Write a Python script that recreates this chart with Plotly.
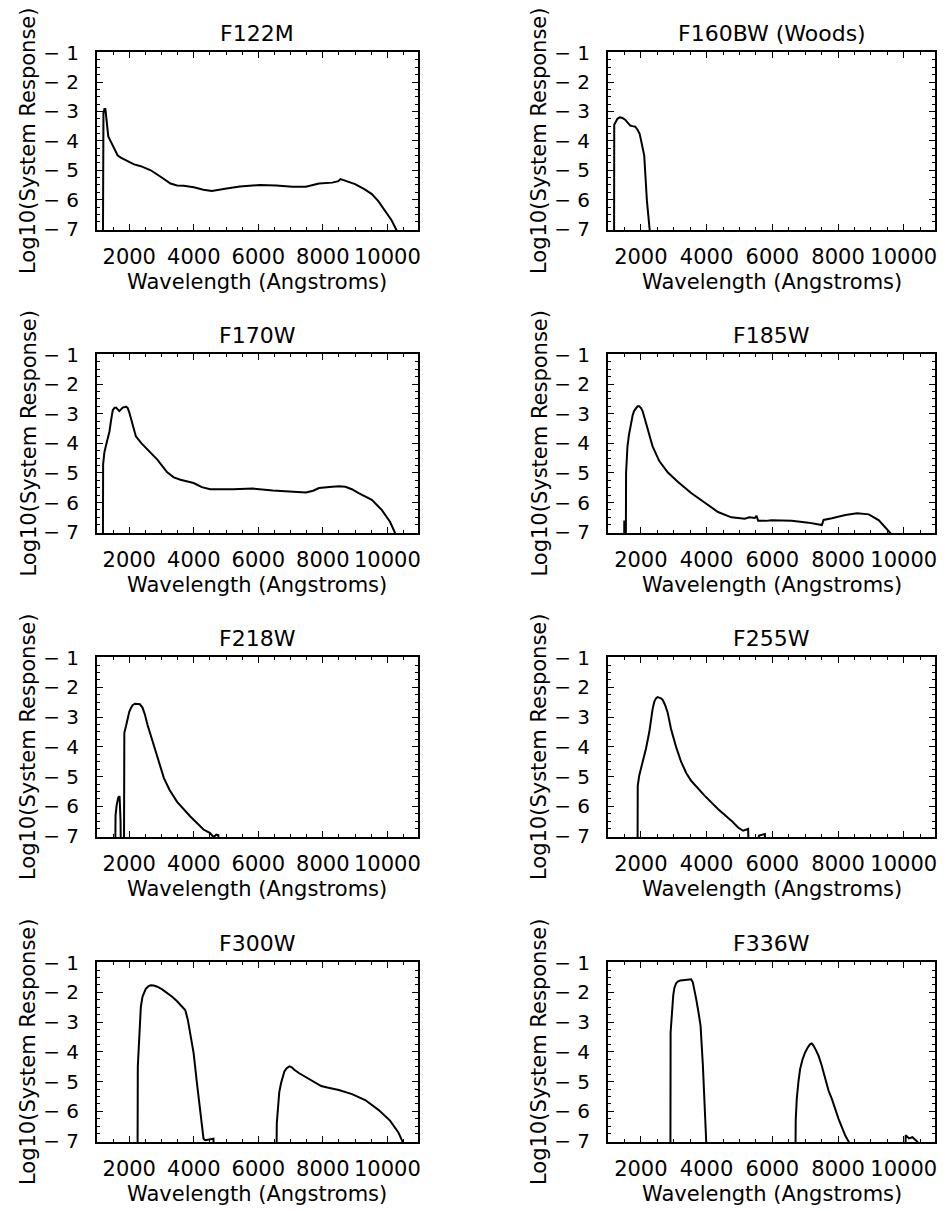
import plotly.graph_objects as go

# Log10(system response) curves, one pair of lists per filter
f122m_wl = [1150, 1182, 1200, 1230, 1260, 1290, 1320, 1350, 1440, 1540, 1642, 1750, 1949, 2150, 2358, 2665,
            2972, 3279, 3480, 3688, 4000, 4300, 4558, 4800, 5018, 5427, 6041, 6553, 7064, 7473, 7882, 8291,
            8480, 8547, 8700, 9000, 9300, 9519, 9720, 9928, 10130, 10286, 10500]
f122m_resp = [-8.0, -8.0, -3.05, -2.92, -2.92, -3.2, -3.6, -3.85, -4.05, -4.3, -4.5, -4.58, -4.68, -4.8,
              -4.86, -5.0, -5.22, -5.45, -5.52, -5.53, -5.58, -5.66, -5.7, -5.67, -5.62, -5.55, -5.50, -5.52,
              -5.56, -5.56, -5.45, -5.42, -5.37, -5.30, -5.35, -5.47, -5.65, -5.81, -6.05, -6.37, -6.7, -7.04,
              -7.5]

f160bw_wl = [1150, 1184, 1190, 1230, 1286, 1360, 1439, 1520, 1592, 1680, 1745, 1830, 1898, 1960, 2000, 2050,
             2102, 2184, 2255, 2350]
f160bw_resp = [-8.0, -8.0, -3.45, -3.35, -3.25, -3.2, -3.22, -3.28, -3.36, -3.48, -3.5, -3.52, -3.62, -3.75,
               -3.95, -4.2, -4.5, -6.03, -7.04, -8.0]

f170w_wl = [1150, 1182, 1190, 1230, 1284, 1340, 1386, 1440, 1489, 1540, 1591, 1693, 1795, 1898, 1950, 2000,
            2050, 2102, 2205, 2380, 2563, 2870, 3176, 3380, 3586, 3995, 4250, 4506, 5222, 5836, 6450, 7064,
            7473, 7700, 7882, 8291, 8500, 8700, 8900, 9110, 9519, 9826, 10082, 10235, 10400]
f170w_resp = [-8.0, -8.0, -4.7, -4.3, -4.05, -3.85, -3.6, -3.2, -2.88, -2.8, -2.79, -2.91, -2.79, -2.76,
              -2.8, -2.95, -3.15, -3.40, -3.76, -4.0, -4.21, -4.55, -4.98, -5.15, -5.23, -5.34, -5.48, -5.55,
              -5.55, -5.53, -5.59, -5.64, -5.66, -5.6, -5.51, -5.47, -5.45, -5.47, -5.55, -5.68, -5.91, -6.25,
              -6.65, -7.02, -7.6]

f185w_wl = [1470, 1490, 1495, 1505, 1510, 1541, 1550, 1570, 1592, 1640, 1694, 1750, 1796, 1850, 1898, 1950,
            2000, 2050, 2102, 2204, 2357, 2561, 2816, 3122, 3530, 3938, 4346, 4754, 5162, 5300, 5468, 5520,
            5570, 5800, 5978, 6590, 7100, 7508, 7540, 7559, 7814, 8222, 8579, 8936, 9242, 9599, 9800]
f185w_resp = [-8.0, -8.0, -6.64, -6.64, -8.0, -8.0, -5.0, -4.5, -4.10, -3.7, -3.35, -3.05, -2.9, -2.8,
              -2.75, -2.75, -2.8, -2.9, -3.1, -3.55, -4.10, -4.6, -4.98, -5.3, -5.68, -6.0, -6.32, -6.50, -6.55,
              -6.5, -6.52, -6.45, -6.62, -6.62, -6.60, -6.62, -6.68, -6.76, -6.68, -6.59, -6.53, -6.42, -6.36,
              -6.40, -6.60, -7.04, -7.5]

f218w_wl = [1540, 1560, 1575, 1610, 1660, 1700, 1730, 1745, 1835, 1847, 1898, 1950, 2000, 2050, 2102, 2180,
            2256, 2330, 2409, 2480, 2563, 2767, 3074, 3250, 3483, 3893, 4302, 4506, 4609, 4700, 4762, 4800]
f218w_resp = [-8.0, -8.0, -6.3, -5.95, -5.7, -5.66, -6.5, -8.0, -8.0, -3.53, -3.31, -3.0, -2.82, -2.7, -2.6,
              -2.55, -2.55, -2.57, -2.68, -2.9, -3.25, -4.0, -5.05, -5.45, -5.85, -6.34, -6.78, -6.90, -7.03,
              -6.95, -6.97, -8.0]

f255w_wl = [1880, 1898, 1905, 1949, 2051, 2153, 2255, 2300, 2357, 2410, 2459, 2510, 2561, 2612, 2663, 2740,
            2816, 2918, 3071, 3224, 3380, 3530, 3938, 4346, 4754, 4958, 5111, 5264, 5295, 5600, 5774, 5800]
f255w_resp = [-8.0, -8.0, -5.31, -4.97, -4.52, -4.07, -3.51, -3.1, -2.73, -2.48, -2.37, -2.33, -2.34, -2.37,
              -2.42, -2.6, -2.85, -3.4, -4.0, -4.5, -4.88, -5.14, -5.64, -6.09, -6.48, -6.71, -6.82, -6.76,
              -8.0, -6.98, -6.93, -8.0]

f300w_wl = [2240, 2256, 2265, 2307, 2358, 2409, 2460, 2512, 2590, 2665, 2760, 2870, 3020, 3176, 3330, 3483,
            3620, 3739, 3820, 3893, 3995, 4097, 4200, 4302, 4353, 4609, 4640, 6560, 6573, 6604, 6650, 6706,
            6760, 6808, 6880, 6962, 7040, 7115, 7268, 7473, 7780, 7950, 8138, 8496, 8905, 9314, 9724, 10082,
            10337, 10460, 10600]
f300w_resp = [-8.0, -8.0, -4.49, -3.30, -2.50, -2.15, -1.98, -1.88, -1.8, -1.76, -1.77, -1.81, -1.9, -2.02,
              -2.15, -2.30, -2.45, -2.6, -2.95, -3.38, -4.04, -5.04, -6.03, -6.92, -6.97, -6.92, -8.0, -8.0,
              -6.4, -5.81, -5.35, -5.05, -4.8, -4.66, -4.55, -4.49, -4.52, -4.60, -4.72, -4.85, -5.05, -5.15,
              -5.20, -5.28, -5.42, -5.62, -5.95, -6.31, -6.70, -6.99, -7.5]

f336w_wl = [2880, 2898, 2905, 2949, 2985, 3020, 3070, 3122, 3200, 3275, 3379, 3479, 3530, 3581, 3630, 3683,
            3750, 3816, 3887, 3938, 3989, 4050, 6700, 6712, 6743, 6795, 6845, 6920, 6998, 7080, 7151, 7200,
            7253, 7330, 7406, 7500, 7610, 7710, 7814, 8018, 8222, 8324, 8400, 10040, 10058, 10160, 10262,
            10415, 10500]
f336w_resp = [-8.0, -8.0, -3.34, -2.56, -2.1, -1.85, -1.7, -1.64, -1.60, -1.59, -1.57, -1.55, -1.56, -1.66,
              -1.9, -2.22, -2.65, -3.12, -4.46, -5.81, -7.02, -8.0, -8.0, -6.3, -5.59, -5.0, -4.58, -4.25,
              -4.02, -3.85, -3.74, -3.72, -3.79, -3.95, -4.13, -4.45, -4.91, -5.3, -5.59, -6.26, -6.82, -7.02,
              -8.0, -8.0, -6.80, -6.91, -6.87, -7.02, -8.0]

filters = ["F122M", "F160BW (Woods)", "F170W", "F185W", "F218W", "F255W", "F300W", "F336W"]
wls = [f122m_wl, f160bw_wl, f170w_wl, f185w_wl, f218w_wl, f255w_wl, f300w_wl, f336w_wl]
resps = [f122m_resp, f160bw_resp, f170w_resp, f185w_resp, f218w_resp, f255w_resp, f300w_resp, f336w_resp]

x_ticks = [2000, 4000, 6000, 8000, 10000]
x_labels = ["2000", "4000", "6000", "8000", "10000"]
y_ticks = [-1, -2, -3, -4, -5, -6, -7]
y_labels = ["\u2212 1", "\u2212 2", "\u2212 3", "\u2212 4", "\u2212 5", "\u2212 6", "\u2212 7"]

# the page body adds an 8px margin, so the figure is laid out in page pixels minus that
PAD = 8
W, H = 947 - PAD, 1211 - PAD
col_px = [(97, 418), (608, 935)]
row_px = [(52, 230), (354, 533), (657, 837), (962, 1142)]
font = "DejaVu Sans"


def px_x(p):
    return (p - PAD) / W


def px_y(p):
    return 1 - (p - PAD) / H


fig = go.Figure()
annotations = []
for i, name in enumerate(filters):
    r, c = divmod(i, 2)
    n = i + 1
    xa = "xaxis" if n == 1 else f"xaxis{n}"
    ya = "yaxis" if n == 1 else f"yaxis{n}"
    xref = "x" if n == 1 else f"x{n}"
    yref = "y" if n == 1 else f"y{n}"
    x0, x1 = col_px[c]
    y0, y1 = row_px[r]

    fig.add_trace(go.Scatter(x=wls[i], y=resps[i], mode="lines",
                             line=dict(color="black", width=2),
                             xaxis=xref, yaxis=yref, showlegend=False))

    fig.layout[xa] = dict(domain=[px_x(x0), px_x(x1)], anchor=yref, range=[1000, 10950],
                          tickvals=x_ticks, ticktext=x_labels, ticks="inside", ticklen=6,
                          tickcolor="black", automargin=False, tickangle=0,
                          showline=True, linecolor="black", linewidth=2, mirror="ticks",
                          showgrid=False, zeroline=False, ticklabelstandoff=7,
                          minor=dict(ticks="inside", ticklen=3, dtick=500, tickcolor="black"),
                          tickfont=dict(family=font, size=21, color="black"))
    fig.layout[ya] = dict(domain=[px_y(y1), px_y(y0)], anchor=xref, range=[-7.03, -0.98],
                          tickvals=y_ticks, ticktext=y_labels, ticks="inside", ticklen=6,
                          tickcolor="black", automargin=False, showline=True, linecolor="black",
                          linewidth=2, mirror="ticks", showgrid=False, zeroline=False,
                          ticklabelstandoff=12,
                          minor=dict(ticks="inside", ticklen=3, dtick=0.25, tickcolor="black"),
                          tickfont=dict(family=font, size=20, color="black"))

    cx = px_x((x0 + x1) / 2)
    annotations.append(dict(text=name, x=cx, y=px_y(y0 - 19), xref="paper", yref="paper",
                            showarrow=False, font=dict(family=font, size=22, color="black"),
                            xanchor="center", yanchor="middle"))
    annotations.append(dict(text="Wavelength (Angstroms)", x=cx, y=px_y(y1 + 52),
                            xref="paper", yref="paper", showarrow=False,
                            font=dict(family=font, size=21, color="black"),
                            xanchor="center", yanchor="middle"))
    annotations.append(dict(text="Log10(System Response)", x=px_x(x0 - 69), y=px_y((y0 + y1) / 2),
                            xref="paper", yref="paper", showarrow=False, textangle=-90,
                            font=dict(family=font, size=21, color="black"),
                            xanchor="center", yanchor="middle"))

fig.update_layout(width=W, height=H, margin=dict(l=0, r=0, t=0, b=0, autoexpand=False),
                  paper_bgcolor="white", plot_bgcolor="white", template="none",
                  annotations=annotations, font=dict(family=font, color="black"))

fig.write_html("out.html")
